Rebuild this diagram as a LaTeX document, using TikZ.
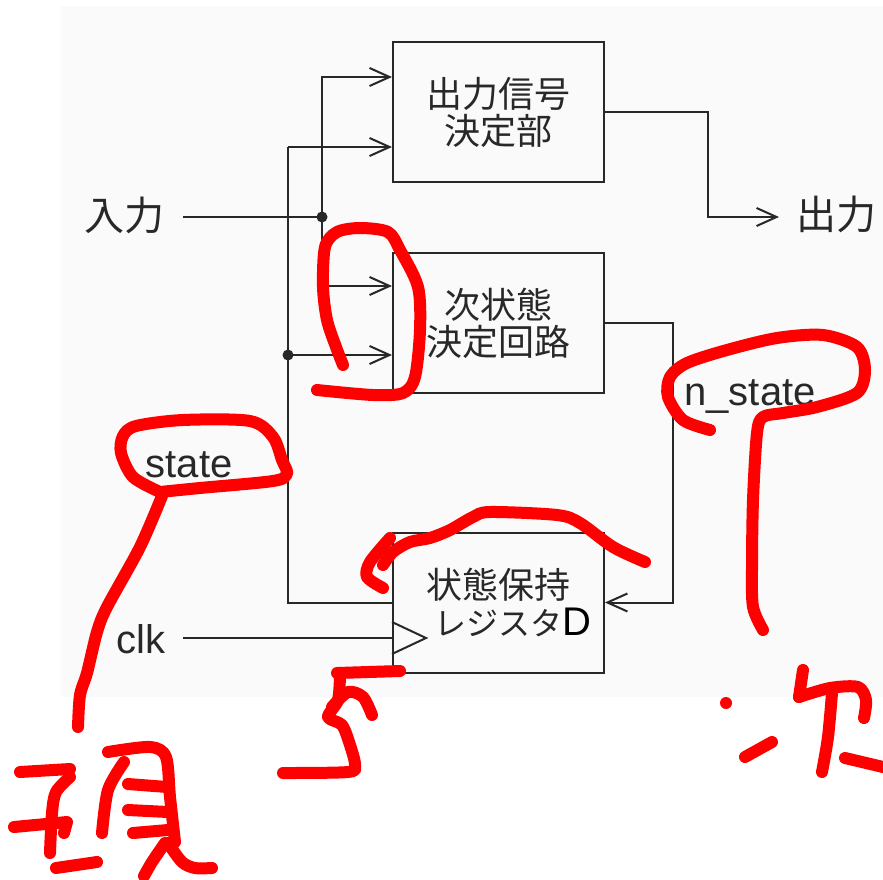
\documentclass[tikz,border=0pt]{standalone}
\usepackage{fontspec}
\setmainfont{Liberation Sans}
\newfontfamily\cjk{Noto Sans CJK JP}
\usetikzlibrary{arrows.meta,calc}
\definecolor{bggray}{RGB}{249,250,249}
\definecolor{ink}{RGB}{40,40,40}
\definecolor{pen}{RGB}{255,0,0}
\begin{document}
\begin{tikzpicture}[x=1pt,y=-1pt,
  box/.style={draw=ink, line width=2pt, minimum width=211pt, minimum height=140pt,
    inner sep=0pt, align=center, text=ink, font=\cjk\fontsize{36}{37}\selectfont},
  conn/.style={draw=ink, line width=2pt},
  arr/.style={conn, -{Straight Barb[length=20pt,width=18pt]}},
  lab/.style={text=ink, font=\fontsize{40}{44}\selectfont, inner sep=0pt},
  jlab/.style={text=ink, font=\cjk\fontsize{40}{44}\selectfont, inner sep=0pt},
  redpen/.style={draw=pen, line width=12pt, line cap=round, line join=round}]
% canvas
\fill[white] (0,0) rectangle (883,880);
\useasboundingbox (0,0) rectangle (883,880);
\fill[bggray] (61,6) rectangle (883,697);

% blocks
\node[box] (outb) at (498.5,112) {出力信号\\決定部};
\node[box] (nsb) at (498.5,323) {次状態\\決定回路};
\node[box] (reg) at (498.5,602.5) {状態保持\\\hspace*{28pt}{\fontsize{32}{37}\selectfont レジスタ}{\color{black}\rmfamily\fontsize{40}{37}\selectfont D}};

% labels
\node[jlab] (inlab) at (124,215) {入力};
\node[jlab] (outlab) at (836,214) {出力};
\node[lab, anchor=base] (stlab) at (189,477) {state};
\node[lab, anchor=base] (nslab) at (750,405) {n\_state};
\node[lab, anchor=base] (clklab) at (141,653) {clk};

% junctions and corners
\coordinate (inS) at (183,217);
\coordinate (jin) at (322,217);
\coordinate (it) at (322,77);
\coordinate (ib) at (322,286);
\coordinate (st) at (288,147);
\coordinate (jst) at (288,355);
\coordinate (sb) at (288,602.5);
\coordinate (oc) at (708,217);
\coordinate (outtip) at (779,217);
\coordinate (nsc) at (673,602.5);
\coordinate (clkS) at (183,638);

% input distribution
\draw[conn] (inS) -- (jin);
\draw[arr] (jin) |- (outb.west |- it);
\draw[arr] (jin) |- (nsb.west |- ib);
\fill[ink] (jin) circle (5.5pt);

% state feedback
\draw[conn] (reg.west) -- (sb) -- (st);
\draw[arr] (st) -- (outb.west |- st);
\draw[arr] (jst) -- (nsb.west |- jst);
\fill[ink] (jst) circle (5.5pt);

% outputs
\draw[arr] (outb.east) -| (oc) -- (outtip);
\draw[arr] (nsb.east) -| (nsc) -- (reg.east);

% clock
\draw[conn] (clkS) -- (reg.west |- clkS);
\draw[conn] ($(reg.west)+(0,19.5)$) -- ($(reg.west)+(34,35.5)$) -- ($(reg.west)+(0,51.5)$);

% red annotations
\draw[redpen] plot[smooth] coordinates {(343,365) (336,347) (327,320) (323,287) (325,247) (337,232) (360,228) (388,232) (400,250) (418,287) (420,330) (415,377) (403,393) (373,395) (317,390)};
\draw[redpen] plot[smooth] coordinates {(160,492) (133,477) (121,453) (123,436) (136,426) (183,420) (250,421) (273,437) (282,460) (287,474) (273,481) (200,488) (160,492)};
\draw[redpen] plot[smooth] coordinates {(162,496) (140,547) (107,607) (97,632) (87,673) (80,695) (78,727)};
\draw[redpen] plot[smooth] coordinates {(710,430) (683,420) (668,397) (670,377) (687,363) (727,350) (777,338) (823,335) (857,347) (865,370) (857,393) (817,407) (783,413) (763,417) (757,433) (753,500) (752,567) (753,607) (763,630)};
\draw[redpen] plot[smooth] coordinates {(645,562) (613,547) (580,523) (557,515) (490,512) (473,517) (450,530) (430,538) (410,542) (393,552) (383,565)};
\draw[redpen] plot[smooth] coordinates {(390,538) (370,562) (367,577) (383,588)};
% "5"
\draw[redpen] (337,673) -- (400,671);
\draw[redpen] plot[smooth] coordinates {(340,675) (338,700) (328,717) (342,725) (350,745) (355,765) (348,772) (283,773)};
\draw[redpen] plot[smooth] coordinates {(332,707) (348,692) (363,697) (372,715)};
% 現
\draw[redpen] (20,772) -- (70,769);
\draw[redpen] plot[smooth] coordinates {(70,777) (56,792) (52,813) (50,853)};
\draw[redpen] (14,827) -- (67,822) -- (64,833);
\draw[redpen] (56,868) -- (97,862);
\draw[redpen] plot[smooth] coordinates {(108,752) (150,747) (166,757) (170,797) (175,842)};
\draw[redpen] plot[smooth] coordinates {(124,762) (108,790) (102,833)};
\draw[redpen] (128,784) -- (167,787);
\draw[redpen] (128,810) -- (168,812);
\draw[redpen] (133,833) -- (168,830);
\draw[redpen] plot[smooth] coordinates {(144,876) (152,862) (165,843)};
\draw[redpen] plot[smooth] coordinates {(168,843) (182,862) (195,868) (212,868)};
% 次
\fill[pen] (726,703) circle (6pt);
\draw[redpen] (745,757) -- (772,742);
\draw[redpen] (803,670) -- (799,697);
\draw[redpen] plot[smooth] coordinates {(799,697) (830,688) (858,687) (866,700) (864,718)};
\draw[redpen] plot[smooth] coordinates {(832,693) (828,737) (822,772)};
\draw[redpen] (845,758) -- (883,767);
\end{tikzpicture}
\end{document}
